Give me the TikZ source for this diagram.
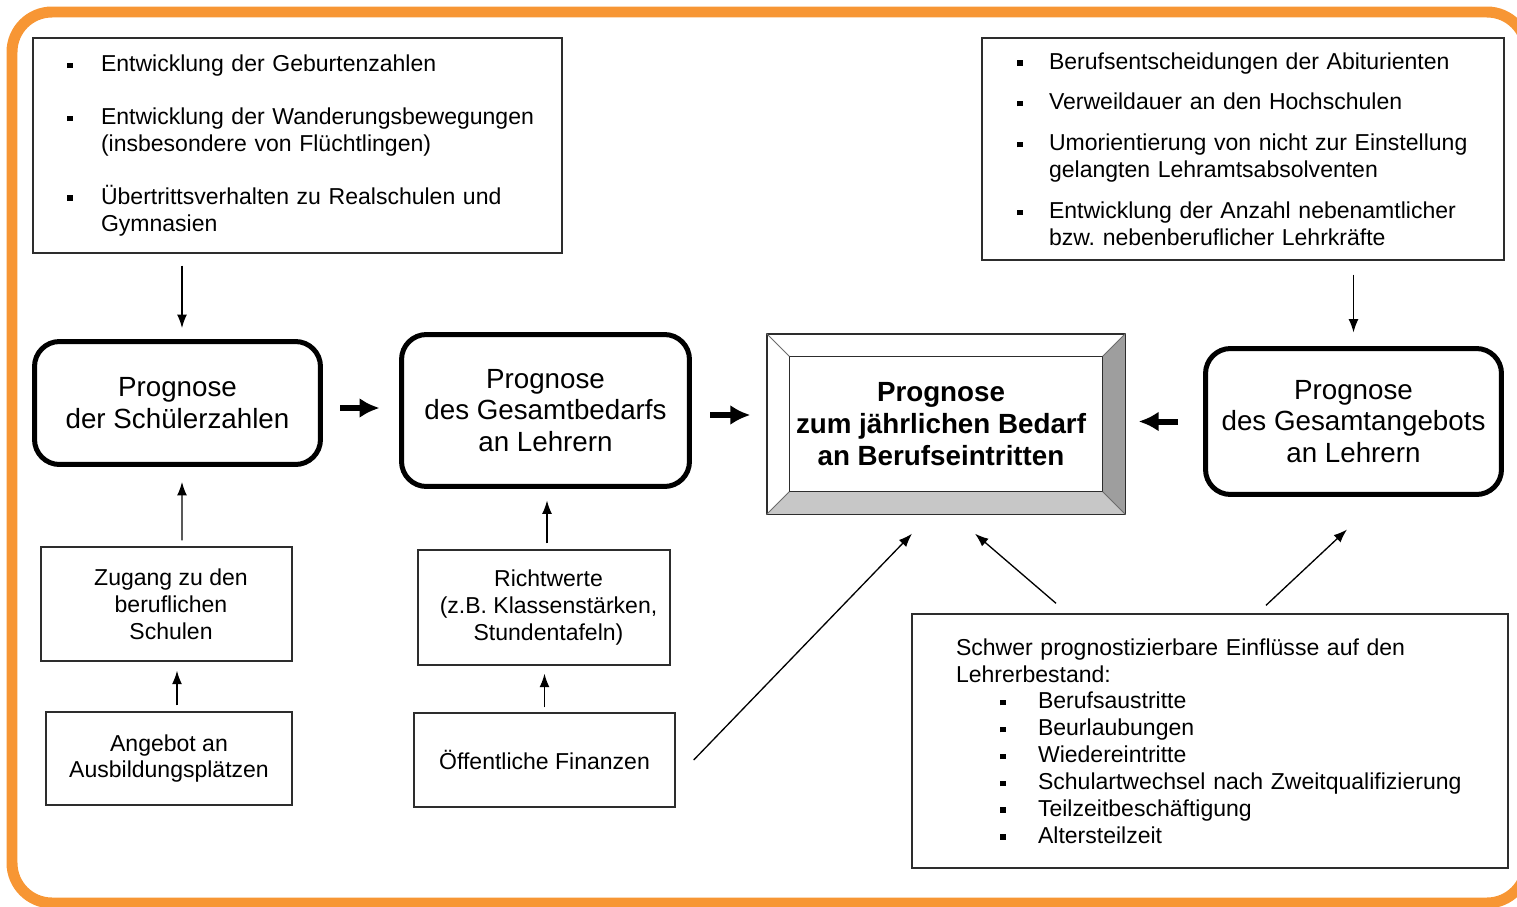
\documentclass[tikz,border=0pt]{standalone}
\usepackage{fontspec}
\setmainfont{Liberation Sans}
\usetikzlibrary{arrows.meta, calc}
\definecolor{rahmen}{RGB}{247,150,52}
\definecolor{linie}{RGB}{45,45,45}
\frenchspacing
\newcommand{\normtext}{\fontsize{13.1pt}{15.3pt}\selectfont}
\newcommand{\bigtext}{\fontsize{15.8pt}{18.1pt}\selectfont}
\newcommand{\sqbul}{\rule[2pt]{0.11cm}{0.11cm}}
\newcommand{\pkt}[1]{\makebox[#1][l]{\sqbul}}
\tikzstyle{frame} = [draw=rahmen, line width=0.22cm, rounded corners=0.8cm]
\tikzstyle{listbox} = [rectangle, draw=linie, line width=0.8pt, align=left, font=\normtext]
\tikzstyle{infobox} = [rectangle, draw=linie, line width=0.8pt, align=center, font=\normtext]
\tikzstyle{prognose} = [rectangle, rounded corners=0.5cm, draw, line width=0.1cm, align=center, font=\bigtext]
\tikzstyle{hauptbox} = [rectangle, draw=linie, line width=0.8pt, fill=white, align=center, font=\bigtext\bfseries, minimum width=7.16cm, minimum height=3.6cm]
\tikzstyle{arrow} = [line width=0.75pt, ->, >={Latex[length=0.27cm, width=0.2cm]}]
\tikzstyle{bigarrow} = [line width=0.12cm, ->, >={Latex[length=0.4cm, width=0.4cm]}]

\begin{document}
\begin{tikzpicture}[x=0.02cm, y=-0.02cm]
    \useasboundingbox (0,0) rectangle (1517,906);
    \draw [frame] (12,12) rectangle (1527,903);

    % Einflussfaktoren oben
    \node [listbox, text width=10.02cm, inner xsep=0.28cm, minimum height=4.3cm] at (297.5,145.5) (einflussschueler) {%
        \hspace*{0.4cm}\pkt{0.68cm}Entwicklung der Geburtenzahlen\\[0.52cm]
        \hspace*{0.4cm}\pkt{0.68cm}Entwicklung der Wanderungsbewegungen\\
        \hspace*{1.08cm}(insbesondere von Flüchtlingen)\\[0.52cm]
        \hspace*{0.4cm}\pkt{0.68cm}Übertrittsverhalten zu Realschulen und\\
        \hspace*{1.08cm}Gymnasien};
    \node [listbox, text width=9.04cm, inner xsep=0.7cm, minimum height=4.44cm] at (1243,149) (einflussangebot) {%
        \pkt{0.64cm}Berufsentscheidungen der Abiturienten\\[0.28cm]
        \pkt{0.64cm}Verweildauer an den Hochschulen\\[0.28cm]
        \pkt{0.64cm}Umorientierung von nicht zur Einstellung\\
        \hspace*{0.64cm}gelangten Lehramtsabsolventen\\[0.28cm]
        \pkt{0.64cm}Entwicklung der Anzahl nebenamtlicher\\
        \hspace*{0.64cm}bzw. nebenberuflicher Lehrkräfte};

    % Prognosen
    \node [prognose, minimum width=5.72cm, minimum height=2.46cm] at (177.5,403) (schueler) {Prognose\\der Schülerzahlen};
    \node [prognose, minimum width=5.76cm, minimum height=3.04cm] at (545.5,410.5) (gesamtbedarf) {Prognose\\des Gesamtbedarfs\\an Lehrern};
    \node [prognose, minimum width=5.92cm, minimum height=2.92cm] at (1353.5,421.5) (angebot) {Prognose\\des Gesamtangebots\\an Lehrern};
    \node [hauptbox] at (946,424) (bedarf) {\hspace*{-0.2cm}Prognose\\\hspace*{-0.2cm}zum jährlichen Bedarf\\\hspace*{-0.2cm}an Berufseintritten};
    \fill [black!38] (bedarf.north east) -- (bedarf.south east) -- ($(bedarf.south east)+(-23,-23)$) -- ($(bedarf.north east)+(-23,23)$) -- cycle;
    \fill [black!22] (bedarf.south west) -- (bedarf.south east) -- ($(bedarf.south east)+(-23,-23)$) -- ($(bedarf.south west)+(23,-23)$) -- cycle;
    \draw [linie, line width=0.8pt] (bedarf.north west) rectangle (bedarf.south east);
    \draw [linie, line width=0.8pt] ($(bedarf.north west)+(23,23)$) rectangle ($(bedarf.south east)+(-23,-23)$);
    \draw [linie!70, line width=0.5pt] (bedarf.north west) -- ++(23,23) (bedarf.north east) -- ++(-23,23)
        (bedarf.south west) -- ++(23,-23) (bedarf.south east) -- ++(-23,-23);

    % Einflussfaktoren unten
    \node [infobox, minimum width=5.02cm, minimum height=2.28cm] at (166.5,604) (zugang) {\hspace*{0.18cm}Zugang zu den\\\hspace*{0.18cm}beruflichen\\\hspace*{0.18cm}Schulen};
    \node [infobox, minimum width=4.92cm, minimum height=1.86cm] at (169,758.5) (ausbildung) {Angebot an\\Ausbildungsplätzen};
    \node [infobox, minimum width=5.04cm, minimum height=2.3cm] at (544,607.5) (richtwerte) {\hspace*{0.18cm}Richtwerte\\\hspace*{0.18cm}(z.B. Klassenstärken,\\\hspace*{0.18cm}Stundentafeln)};
    \node [infobox, minimum width=5.22cm, minimum height=1.88cm] at (544.5,760) (finanzen) {Öffentliche Finanzen};
    \node [listbox, text width=10.16cm, inner xsep=0.88cm, minimum height=5.08cm] at (1210,741) (bestand) {%
        Schwer prognostizierbare Einflüsse auf den\\
        Lehrerbestand:\\
        \hspace*{0.88cm}\pkt{0.76cm}Berufsaustritte\\
        \hspace*{0.88cm}\pkt{0.76cm}Beurlaubungen\\
        \hspace*{0.88cm}\pkt{0.76cm}Wiedereintritte\\
        \hspace*{0.88cm}\pkt{0.76cm}Schulartwechsel nach Zweitqualifizierung\\
        \hspace*{0.88cm}\pkt{0.76cm}Teilzeitbeschäftigung\\
        \hspace*{0.88cm}\pkt{0.76cm}Altersteilzeit};

    % Pfeile
    \draw [arrow, shorten <=0.24cm, shorten >=0.22cm] ([xshift=0.09cm]schueler.north |- einflussschueler.south) -- ([xshift=0.09cm]schueler.north);
    \draw [arrow, shorten <=0.28cm, shorten >=0.27cm] (angebot.north |- einflussangebot.south) -- (angebot.north);
    \draw [arrow, shorten <=0.12cm, shorten >=0.3cm] ([xshift=0.31cm]zugang.north) -- ([xshift=0.09cm]schueler.south);
    \draw [arrow, shorten <=0.12cm, shorten >=0.18cm] ([xshift=0.16cm]ausbildung.north) -- ([xshift=0.16cm]ausbildung.north |- zugang.south);
    \draw [arrow, shorten <=0.12cm, shorten >=0.23cm] ([xshift=0.06cm]richtwerte.north) -- ([xshift=0.06cm]richtwerte.north |- gesamtbedarf.south);
    \draw [arrow, shorten <=0.1cm, shorten >=0.16cm] (finanzen.north) -- (finanzen.north |- richtwerte.south);
    \draw [arrow] ([xshift=0.36cm]finanzen.east) -- ([xshift=-0.68cm, yshift=-0.38cm]bedarf.south);
    \draw [arrow] ([xshift=-3.08cm, yshift=0.2cm]bestand.north) -- ([xshift=0.58cm, yshift=-0.38cm]bedarf.south);
    \draw [arrow] ([xshift=1.12cm, yshift=0.16cm]bestand.north) -- ([xshift=-0.13cm, yshift=-0.65cm]angebot.south);
    \draw [bigarrow, shorten <=0.35cm, shorten >=0.39cm] ([yshift=-0.1cm]schueler.east) -- ([yshift=-0.1cm]schueler.east -| gesamtbedarf.west);
    \draw [bigarrow, shorten <=0.37cm, shorten >=0.32cm] ([yshift=-0.09cm]gesamtbedarf.east) -- ([yshift=-0.09cm]gesamtbedarf.east -| bedarf.west);
    \draw [bigarrow, shorten <=0.5cm, shorten >=0.26cm] (angebot.west) -- (angebot.west -| bedarf.east);
\end{tikzpicture}
\end{document}
